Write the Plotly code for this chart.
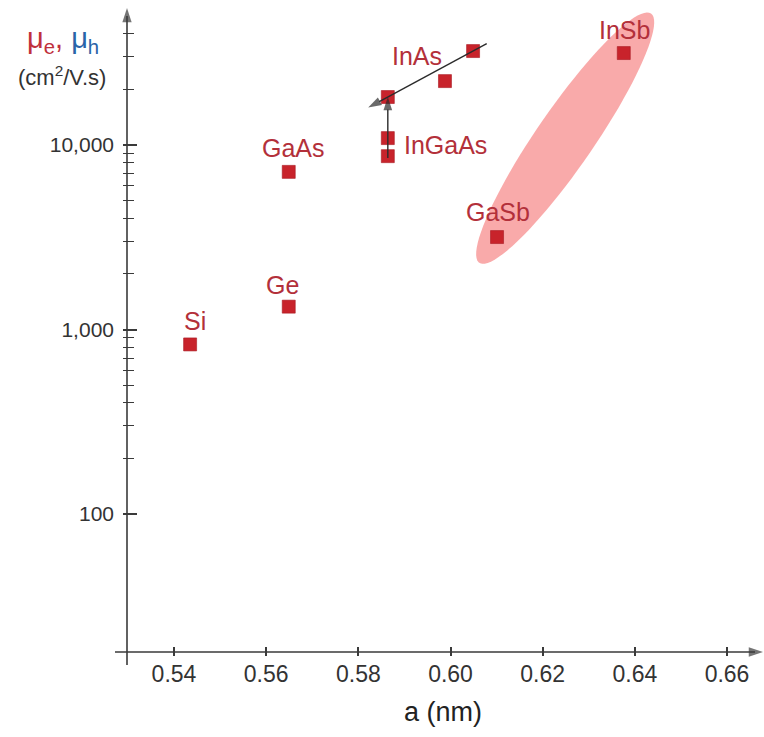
import numpy as np
import plotly.graph_objects as go

# Lattice constant a (nm) versus carrier mobility (cm^2/V.s)
materials = ["Si", "Ge", "GaAs", "InGaAs", "InGaAs", "InGaAs", "InAs", "InAs", "GaSb", "InSb"]
lattice_nm = [0.5435, 0.5649, 0.5649, 0.5864, 0.5864, 0.5864, 0.5988, 0.6049, 0.6101, 0.6376]
mobility = [830, 1330, 7150, 8700, 10900, 18200, 22200, 32300, 3170, 31500]

# text labels: (text, index of anchor point, x shift px, y shift px, x anchor)
point_labels = [
    ("Si", 0, 5, 23, "center"),
    ("Ge", 1, -6, 22, "center"),
    ("GaAs", 2, 5, 24, "center"),
    ("InGaAs", 4, 14, -7, "left"),
    ("InAs", 6, -28, 25, "center"),
    ("GaSb", 8, 1, 25, "center"),
    ("InSb", 9, 1, 23, "center"),
]

x_tickvals = [0.54, 0.56, 0.58, 0.60, 0.62, 0.64, 0.66]
x_ticktext = ["0.54", "0.56", "0.58", "0.60", "0.62", "0.64", "0.66"]
y_major = [100, 1000, 10000]
y_major_text = ["100", "1,000", "10,000"]
y_minor = [200, 300, 400, 500, 600, 700, 800, 900,
           2000, 3000, 4000, 5000, 6000, 7000, 8000, 9000,
           20000, 30000, 40000]

FONT = "Liberation Sans, Arial, sans-serif"
RED_TEXT = "#b3303a"
MARKER_RED = "#c8232b"
AXIS = "#3a3a3a"

W, H = 764, 737
ML, MR, MT, MB = 123, 1, 8, 81
PW, PH = W - ML - MR, H - MT - MB
XR = [0.528937, 0.667809]
YR = [1.23035, 4.74255]


def to_px(x, y):
    px = ML + (x - XR[0]) / (XR[1] - XR[0]) * PW
    py = MT + PH - (np.log10(y) - YR[0]) / (YR[1] - YR[0]) * PH
    return px, py


def from_px(px, py):
    x = XR[0] + (px - ML) / PW * (XR[1] - XR[0])
    y = 10 ** (YR[0] + (MT + PH - py) / PH * (YR[1] - YR[0]))
    return x, y


def px_to_paper(px, py):
    return (px - ML) / PW, (MT + PH - py) / PH


fig = go.Figure()

# highlight ellipse around the antimonides (GaSb -> InSb)
g = np.array(to_px(lattice_nm[8], mobility[8]))
s = np.array(to_px(lattice_nm[9], mobility[9]))
d = s - g
seg = np.hypot(*d)
u = d / seg
nrm = np.array([-u[1], u[0]])
t0, t1 = -0.14, 1.215
centre = g + u * seg * (t0 + t1) / 2
semi_a = seg * (t1 - t0) / 2
semi_b = seg * 0.128
th = np.linspace(0, 2 * np.pi, 90)
pts = [centre + u * semi_a * np.cos(t) + nrm * semi_b * np.sin(t) for t in th]
path = ""
for i, p in enumerate(pts):
    fx, fy = px_to_paper(p[0], p[1])
    path += ("M" if i == 0 else "L") + f"{fx:.5f},{fy:.5f} "
path += "Z"
fig.add_shape(type="path", path=path, xref="paper", yref="paper",
              fillcolor="#f9aaaa", line=dict(width=0), layer="below")

# points
fig.add_trace(go.Scatter(
    x=lattice_nm, y=mobility, mode="markers",
    marker=dict(symbol="square", size=13, color=MARKER_RED,
                line=dict(width=0.6, color="#a81a22")),
    hoverinfo="text", text=materials, showlegend=False,
))


def lerp(p0, p1, t):
    lx = p0[0] + (p1[0] - p0[0]) * t
    ly = np.log10(p0[1]) + (np.log10(p1[1]) - np.log10(p0[1])) * t
    return lx, 10 ** ly


# InAs -> strained InGaAs arrow, and InGaAs -> strained arrow (drawn over the squares)
pA = (lattice_nm[7], mobility[7])
pB = (lattice_nm[5], mobility[5])
pC = (lattice_nm[3], mobility[3])
for tail, head in [(lerp(pA, pB, -0.16), lerp(pA, pB, 1.23)),
                   (lerp(pC, pB, -0.03), lerp(pC, pB, 1.0))]:
    fig.add_trace(go.Scatter(
        x=[tail[0], head[0]], y=[tail[1], head[1]], mode="lines+markers",
        line=dict(color="#2b2b2b", width=1.4),
        marker=dict(symbol=["circle", "arrow"], size=[0, 14], color="#2b2b2b",
                    angleref="previous", line=dict(width=0)),
        hoverinfo="skip", showlegend=False,
    ))

# axis lines crossing near the origin, with arrow tips
yx, _ = px_to_paper(127, 0)
_, ybot = px_to_paper(0, 665)
_, ytop = px_to_paper(0, 16)
fig.add_shape(type="line", xref="paper", yref="paper", x0=yx, x1=yx, y0=ybot, y1=ytop,
              line=dict(color=AXIS, width=1.6))
xl, xy = px_to_paper(115, 652)
xr, _ = px_to_paper(755, 652)
fig.add_shape(type="line", xref="paper", yref="paper", x0=xl, x1=xr, y0=xy, y1=xy,
              line=dict(color=AXIS, width=1.6))

y_tail = from_px(127, 60)
y_tip = from_px(127, 8)
x_tail = from_px(700, 652)
x_tip = from_px(763, 652)
for tail, tip in [(y_tail, y_tip), (x_tail, x_tip)]:
    fig.add_trace(go.Scatter(
        x=[tail[0], tip[0]], y=[tail[1], tip[1]], mode="markers",
        marker=dict(symbol=["circle", "arrow"], size=[0, 15], color=AXIS,
                    angleref="previous", line=dict(width=0)),
        cliponaxis=False, hoverinfo="skip", showlegend=False,
    ))

annotations = []
for text, idx, xs, ys, xa in point_labels:
    annotations.append(dict(
        x=lattice_nm[idx], y=np.log10(mobility[idx]), xref="x", yref="y",
        text=text, showarrow=False, xanchor=xa, yanchor="middle",
        xshift=xs, yshift=ys,
        font=dict(family=FONT, size=25, color=RED_TEXT),
    ))

# y axis title
tx, ty = px_to_paper(63, 40)
annotations.append(dict(
    x=tx, y=ty, xref="paper", yref="paper", showarrow=False,
    xanchor="center", yanchor="middle",
    text=("<span style='color:#c0303c'>μ<sub>e</sub>,</span> "
          "<span style='color:#2a64a8'>μ<sub>h</sub></span>"),
    font=dict(family=FONT, size=29),
))
tx, ty = px_to_paper(62, 76)
annotations.append(dict(
    x=tx, y=ty, xref="paper", yref="paper", showarrow=False,
    xanchor="center", yanchor="middle",
    text="(cm<sup>2</sup>/V.s)",
    font=dict(family=FONT, size=22, color="#333333"),
))

fig.update_layout(
    width=W, height=H,
    margin=dict(l=ML, r=MR, t=MT, b=MB, pad=0),
    paper_bgcolor="white", plot_bgcolor="white",
    showlegend=False,
    annotations=annotations,
    xaxis=dict(
        range=XR, showgrid=False, zeroline=False, showline=False,
        ticks="inside", ticklen=9, tickwidth=1.5, tickcolor=AXIS,
        tickvals=x_tickvals, ticktext=x_ticktext,
        tickfont=dict(family=FONT, size=23, color="#333333"),
        ticklabelstandoff=2,
        title=dict(text="a (nm)", font=dict(family=FONT, size=27, color="#222222"),
                   standoff=16),
    ),
    yaxis=dict(
        type="log", range=YR, showgrid=False, zeroline=False, showline=False,
        ticks="inside", ticklen=14, tickwidth=1.8, tickcolor=AXIS,
        tickvals=y_major, ticktext=y_major_text,
        minor=dict(tickvals=y_minor, ticks="inside", ticklen=11,
                   tickwidth=1.4, tickcolor=AXIS),
        tickfont=dict(family=FONT, size=21, color="#333333"),
        ticklabelstandoff=8,
    ),
)

fig.write_html("out.html")
